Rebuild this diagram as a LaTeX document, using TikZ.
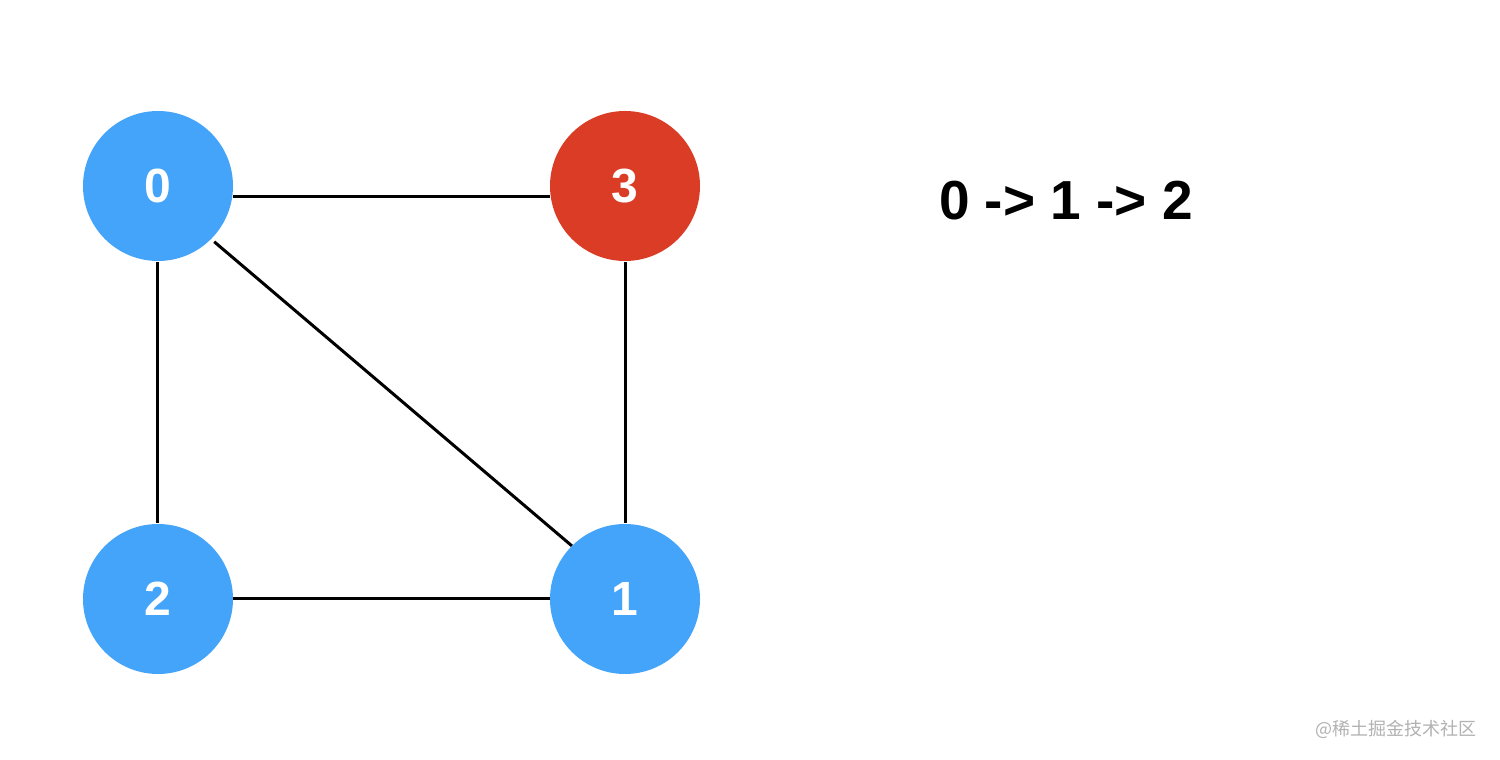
\documentclass[tikz,border=0pt]{standalone}
\usepackage{fontspec}
\setmainfont{Liberation Sans}
\newfontfamily\cjkfont{Noto Sans CJK SC}
\definecolor{nodeblue}{RGB}{68,164,249}
\definecolor{nodered}{RGB}{218,60,38}
\definecolor{wmgrey}{RGB}{178,178,178}
\begin{document}
\begin{tikzpicture}[x=1pt,y=1pt,
  vtx/.style={circle,fill=nodeblue,draw=none,minimum size=150pt,inner sep=0pt,
    text=white,font=\fontsize{48}{48}\selectfont\bfseries},
  hot/.style={vtx,fill=nodered},
  edge/.style={draw=black,line width=3pt}]
\useasboundingbox (0,0) rectangle (1500,760);
\fill[white] (0,0) rectangle (1500,760);
\node[vtx] (n0) at (158,574) {0};
\node[hot] (n3) at (625,574) {3};
\node[vtx] (n2) at (158,161) {2};
\node[vtx] (n1) at (625,161) {1};
\draw[edge] ([yshift=-11pt]n0.east) -- ([yshift=-11pt]n3.west);
\draw[edge,shorten <=1pt,shorten >=1pt] ([xshift=-1pt]n0.south) -- ([xshift=-1pt]n2.north);
\draw[edge,shorten <=1pt,shorten >=1pt] (n3.south) -- (n1.north);
\draw[edge] (n2.east) -- (n1.west);
\draw[edge,shorten <=4pt] (n0.-45) -- (n1.135);
\node[font=\fontsize{55}{55}\selectfont\bfseries,inner sep=0pt] (path) at (1066,559) {0 -> 1 -> 2};
\node[font=\cjkfont\fontsize{18}{18}\selectfont,text=wmgrey,inner sep=0pt] (wm) at (1396,31) {@稀土掘金技术社区};
\end{tikzpicture}
\end{document}
